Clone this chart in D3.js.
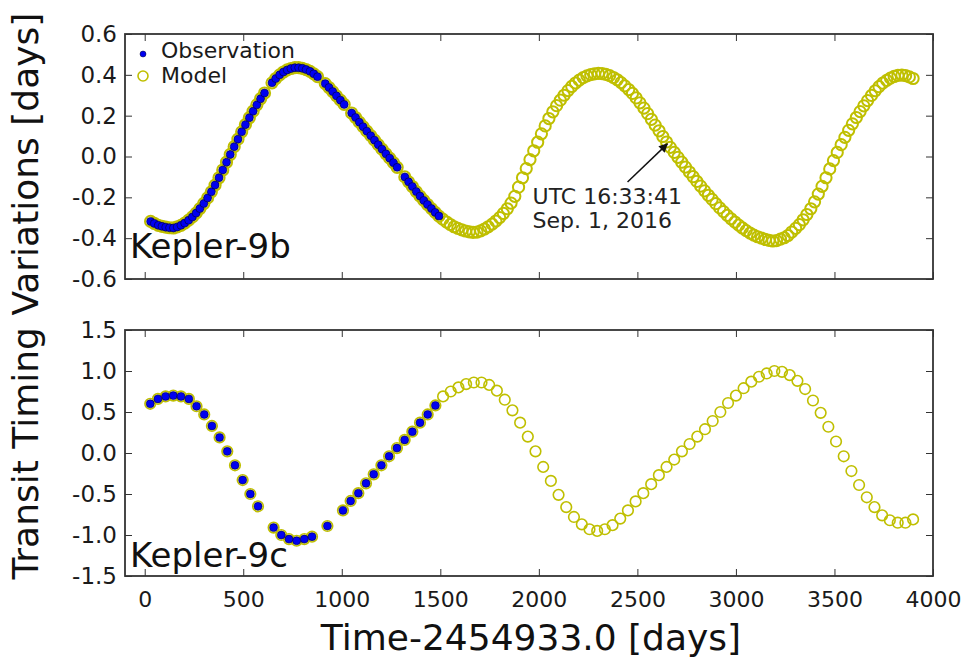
<!DOCTYPE html>
<html>
<head>
<meta charset="utf-8">
<script src="https://cdn.jsdelivr.net/npm/d3@7"></script>
<style>
  body { margin: 0; background: #fff; }
  text { font-family: "DejaVu Sans", sans-serif; }
</style>
</head>
<body>
<svg id="chart"></svg>
<script>
const WIDTH = 966;
const HEIGHT = 657;

// ---- data ----
// Kepler-9b model transit times (days) and TTVs (days)
const timeB = [
  30, 49, 69, 88, 107, 126, 146, 165, 184, 203, 223, 242,
  261, 280, 300, 319, 338, 357, 377, 396, 415, 434, 454, 473,
  492, 511, 531, 550, 569, 588, 608, 646, 665, 685, 704,
  723, 742, 762, 781, 800, 819, 839, 858, 877, 916, 935,
  954, 973, 993, 1012, 1050, 1070, 1089, 1108, 1127, 1147, 1166,
  1185, 1204, 1224, 1243, 1262, 1281, 1320, 1339, 1358, 1378, 1397,
  1416, 1435, 1455, 1474, 1493, 1512, 1532, 1551, 1570, 1589, 1609, 1628,
  1647, 1666, 1686, 1705, 1724, 1743, 1763, 1782, 1801, 1820, 1840, 1859,
  1878, 1897, 1917, 1936, 1955, 1974, 1994, 2013, 2032, 2051, 2071, 2090,
  2109, 2128, 2148, 2167, 2186, 2205, 2225, 2244, 2263, 2282, 2302, 2321,
  2340, 2359, 2379, 2398, 2417, 2436, 2456, 2475, 2494, 2513, 2533, 2552,
  2571, 2590, 2610, 2629, 2648, 2667, 2687, 2706, 2725, 2744, 2764, 2783,
  2802, 2821, 2841, 2860, 2879, 2898, 2918, 2937, 2956, 2975, 2995, 3014,
  3033, 3052, 3072, 3091, 3110, 3129, 3149, 3168, 3187, 3206, 3226, 3245,
  3264, 3283, 3303, 3322, 3341, 3360, 3380, 3399, 3418, 3437, 3457, 3476,
  3495, 3514, 3534, 3553, 3572, 3591, 3611, 3630, 3649, 3668, 3688, 3707,
  3726, 3745, 3765, 3784, 3803, 3822, 3842, 3861, 3880, 3899
];
const ttvB = [
  -0.318, -0.328, -0.337, -0.342, -0.346, -0.349, -0.350, -0.345, -0.337, -0.326, -0.312, -0.296,
  -0.277, -0.255, -0.230, -0.203, -0.173, -0.140, -0.104, -0.066, -0.028, 0.010, 0.048, 0.085,
  0.121, 0.156, 0.190, 0.222, 0.253, 0.283, 0.311, 0.361, 0.382, 0.400, 0.414,
  0.424, 0.431, 0.435, 0.435, 0.432, 0.426, 0.417, 0.405, 0.391, 0.357, 0.338,
  0.318, 0.297, 0.276, 0.255, 0.213, 0.191, 0.168, 0.146, 0.124, 0.102, 0.080,
  0.058, 0.036, 0.013, -0.008, -0.030, -0.053, -0.100, -0.124, -0.147, -0.172, -0.194,
  -0.215, -0.235, -0.255, -0.274, -0.292, -0.307, -0.321, -0.333, -0.344, -0.352, -0.359, -0.365,
  -0.369, -0.372, -0.370, -0.364, -0.355, -0.344, -0.331, -0.316, -0.299, -0.279, -0.256, -0.228,
  -0.195, -0.150, -0.104, -0.059, -0.015, 0.028, 0.070, 0.111, 0.150, 0.186, 0.219, 0.249,
  0.276, 0.300, 0.323, 0.343, 0.360, 0.374, 0.386, 0.395, 0.401, 0.405, 0.407, 0.406,
  0.402, 0.396, 0.387, 0.376, 0.362, 0.346, 0.328, 0.309, 0.287, 0.263, 0.237, 0.210,
  0.182, 0.154, 0.126, 0.098, 0.071, 0.045, 0.020, -0.004, -0.028, -0.052, -0.076, -0.099,
  -0.122, -0.145, -0.168, -0.190, -0.210, -0.231, -0.252, -0.270, -0.288, -0.305, -0.321, -0.336,
  -0.350, -0.363, -0.375, -0.385, -0.393, -0.400, -0.406, -0.411, -0.414, -0.412, -0.405, -0.398,
  -0.387, -0.370, -0.352, -0.334, -0.310, -0.284, -0.256, -0.222, -0.184, -0.146, -0.104, -0.061,
  -0.020, 0.020, 0.058, 0.094, 0.128, 0.160, 0.191, 0.220, 0.248, 0.274, 0.299, 0.322,
  0.342, 0.359, 0.373, 0.384, 0.392, 0.397, 0.399, 0.396, 0.390, 0.382
];

// Kepler-9c model transit times (days) and TTVs (days)
const timeC = [
  28, 67, 106, 145, 184, 224, 263, 302, 341, 380, 419, 458, 497, 536, 575,
  654, 693, 732, 771, 810, 849, 927, 1006, 1045, 1084, 1123, 1162, 1201, 1240,
  1280, 1319, 1358, 1397, 1436, 1475, 1514, 1553, 1592, 1631, 1670, 1709, 1748,
  1787, 1827, 1866, 1905, 1944, 1983, 2022, 2061, 2100, 2139, 2178, 2218, 2257,
  2296, 2335, 2374, 2413, 2452, 2491, 2530, 2570, 2609, 2648, 2687, 2726, 2765,
  2804, 2843, 2882, 2921, 2960, 3000, 3039, 3078, 3117, 3156, 3195, 3234, 3273,
  3312, 3351, 3391, 3430, 3469, 3508, 3547, 3586, 3625, 3664, 3703, 3742, 3781,
  3821, 3860, 3899
];
const ttvC = [
  0.60, 0.66, 0.69, 0.70, 0.69, 0.66, 0.57, 0.47, 0.33, 0.19, 0.02, -0.15, -0.33, -0.50, -0.65,
  -0.91, -1.00, -1.05, -1.07, -1.05, -1.02, -0.89, -0.70, -0.585, -0.49, -0.37, -0.26, -0.15, -0.04,
  0.06, 0.16, 0.26, 0.37, 0.47, 0.58, 0.69, 0.75, 0.80, 0.84, 0.86, 0.86, 0.83,
  0.76, 0.65, 0.52, 0.37, 0.20, 0.02, -0.17, -0.34, -0.51, -0.66, -0.78, -0.87, -0.93,
  -0.95, -0.93, -0.88, -0.80, -0.70, -0.59, -0.49, -0.38, -0.27, -0.17, -0.08, 0.02, 0.11,
  0.20, 0.29, 0.39, 0.50, 0.61, 0.70, 0.79, 0.87, 0.93, 0.97, 1.00, 0.99, 0.95,
  0.88, 0.78, 0.64, 0.49, 0.32, 0.14, -0.04, -0.22, -0.39, -0.54, -0.66, -0.76, -0.82,
  -0.85, -0.85, -0.81
];

// observations cover the model up to this time
const obsEnd = 1500;

const xTickValues = [0, 500, 1000, 1500, 2000, 2500, 3000, 3500, 4000];
const yTicksB = [-0.6, -0.4, -0.2, 0.0, 0.2, 0.4, 0.6];
const yTicksC = [-1.5, -1.0, -0.5, 0.0, 0.5, 1.0, 1.5];

const legendLabels = ['Observation', 'Model'];
const annotLines = ['UTC 16:33:41', 'Sep. 1, 2016'];
const annotTip = [2652, 0.062];
const annotTail = [2450, -0.125];
const annotTextAt = [1968, -0.232];

// ---- layout ----
const plotLeft = 125;
const plotRight = 933;
const MODEL_COLOR = '#bfbf00';
const OBS_COLOR = '#0000f0';
const AXIS_COLOR = '#333';

const svg = d3.select('#chart').attr('width', WIDTH).attr('height', HEIGHT);

const defs = svg.append('defs');
defs.append('marker')
    .attr('id', 'arrowhead')
    .attr('viewBox', '0 0 10 10')
    .attr('refX', 9).attr('refY', 5)
    .attr('markerUnits', 'userSpaceOnUse')
    .attr('markerWidth', 11).attr('markerHeight', 9)
    .attr('orient', 'auto')
  .append('path')
    .attr('d', 'M0,0 L10,5 L0,10 z')
    .attr('fill', '#111');

const x = d3.scaleLinear().domain([-100, 4000]).range([plotLeft, plotRight]);

// the 9b model is sampled so densely that its rings merge into a thick band
const panels = [
    {label: 'Kepler-9b', top: 34, bottom: 279, domain: [-0.6, 0.6], yTicks: yTicksB,
     time: timeB, ttv: ttvB, showX: false, labelY: 258, ringR: 5.6, ringW: 2},
    {label: 'Kepler-9c', top: 330, bottom: 576, domain: [-1.5, 1.5], yTicks: yTicksC,
     time: timeC, ttv: ttvC, showX: true, labelY: 567, ringR: 5.3, ringW: 1.6}
];

const styleAxis = sel => {
    sel.select('.domain').remove();
    sel.attr('font-family', '"DejaVu Sans", sans-serif');
    sel.selectAll('line').attr('stroke', AXIS_COLOR).attr('stroke-width', 1);
    sel.selectAll('text').attr('fill', '#1a1a1a');
};

const drawPanel = p => {
    const y = d3.scaleLinear().domain(p.domain).range([p.bottom, p.top]);
    const g = svg.append('g');

    g.append('g')
        .attr('transform', `translate(0,${p.bottom})`)
        .call(d3.axisBottom(x).tickValues(xTickValues).tickSize(-7).tickPadding(15)
            .tickFormat(p.showX ? d3.format('d') : () => ''))
        .call(styleAxis)
        .attr('font-size', 22);

    g.append('g')
        .attr('transform', `translate(0,${p.top})`)
        .call(d3.axisTop(x).tickValues(xTickValues).tickSize(-7).tickFormat(() => ''))
        .call(styleAxis);

    g.append('g')
        .attr('transform', `translate(${plotLeft},0)`)
        .call(d3.axisLeft(y).tickValues(p.yTicks).tickSize(-7).tickPadding(8)
            .tickFormat(d3.format('.1f')))
        .call(styleAxis)
        .attr('font-size', 23)
        .selectAll('text').text(d => d3.format('.1f')(d).replace('−', '-'));

    g.append('g')
        .attr('transform', `translate(${plotRight},0)`)
        .call(d3.axisRight(y).tickValues(p.yTicks).tickSize(-7).tickFormat(() => ''))
        .call(styleAxis);

    const model = p.time.map((t, i) => ({t: t, v: p.ttv[i]}));
    const obs = model.filter(d => d.t <= obsEnd);

    g.append('g').selectAll('circle')
        .data(model)
        .join('circle')
            .attr('cx', d => x(d.t))
            .attr('cy', d => y(d.v))
            .attr('r', p.ringR)
            .attr('fill', 'none')
            .attr('stroke', MODEL_COLOR)
            .attr('stroke-width', p.ringW);

    g.append('g').selectAll('circle')
        .data(obs)
        .join('circle')
            .attr('cx', d => x(d.t))
            .attr('cy', d => y(d.v))
            .attr('r', 4)
            .attr('fill', OBS_COLOR)
            .attr('stroke', '#000030')
            .attr('stroke-width', 0.6);

    g.append('text')
        .attr('x', plotLeft + 5)
        .attr('y', p.labelY)
        .attr('font-size', 34)
        .attr('fill', '#111')
        .text(p.label);

    g.append('rect')
        .attr('x', plotLeft).attr('y', p.top)
        .attr('width', plotRight - plotLeft).attr('height', p.bottom - p.top)
        .attr('fill', 'none')
        .attr('stroke', AXIS_COLOR)
        .attr('stroke-width', 1.8);

    return y;
};

const yB = drawPanel(panels[0]);
drawPanel(panels[1]);

// legend (top panel)
const legend = svg.append('g');
legend.append('circle')
    .attr('cx', 143).attr('cy', 54).attr('r', 3)
    .attr('fill', OBS_COLOR).attr('stroke', '#000030').attr('stroke-width', 0.5);
legend.append('circle')
    .attr('cx', 143).attr('cy', 76).attr('r', 5)
    .attr('fill', 'none').attr('stroke', MODEL_COLOR).attr('stroke-width', 1.6);
legend.selectAll('text')
    .data(legendLabels)
    .join('text')
        .attr('x', 161)
        .attr('y', (d, i) => 58 + i * 25)
        .attr('font-size', 22)
        .attr('fill', '#1a1a1a')
        .text(d => d);

// annotation
svg.append('line')
    .attr('x1', x(annotTail[0])).attr('y1', yB(annotTail[1]))
    .attr('x2', x(annotTip[0])).attr('y2', yB(annotTip[1]))
    .attr('stroke', '#111')
    .attr('stroke-width', 1.5)
    .attr('marker-end', 'url(#arrowhead)');

svg.append('text')
    .attr('x', x(annotTextAt[0]))
    .attr('y', yB(annotTextAt[1]))
    .attr('font-size', 22)
    .attr('fill', '#222')
    .selectAll('tspan')
    .data(annotLines)
    .join('tspan')
        .attr('x', x(annotTextAt[0]))
        .attr('dy', (d, i) => i === 0 ? 0 : 24)
        .text(d => d);

// axis titles
svg.append('text')
    .attr('x', (plotLeft + plotRight) / 2 + 2)
    .attr('y', 650)
    .attr('text-anchor', 'middle')
    .attr('font-size', 36)
    .attr('fill', '#111')
    .text('Time-2454933.0 [days]');

svg.append('text')
    .attr('transform', 'translate(38,296) rotate(-90)')
    .attr('text-anchor', 'middle')
    .attr('font-size', 36)
    .attr('fill', '#111')
    .text('Transit Timing Variations [days]');
</script>
</body>
</html>
